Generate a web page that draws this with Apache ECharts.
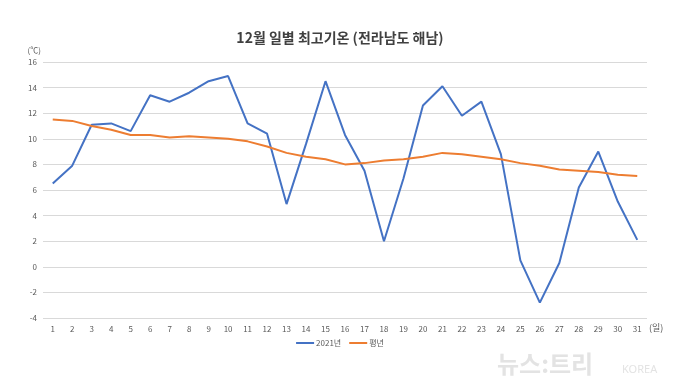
<!DOCTYPE html>
<html><head><meta charset="utf-8">
<script src="https://cdn.jsdelivr.net/npm/echarts@6/dist/echarts.min.js"></script>
<style>html,body{margin:0;padding:0;background:#fff}#c{width:680px;height:382px}</style>
</head><body><div id="c"></div>
<script>
const days = ['1','2','3','4','5','6','7','8','9','10','11','12','13','14','15','16','17','18','19','20','21','22','23','24','25','26','27','28','29','30','31'];
const temp2021 = [6.5,7.9,11.1,11.2,10.6,13.4,12.9,13.6,14.5,14.9,11.2,10.4,4.9,9.6,14.5,10.3,7.5,2.0,6.9,12.6,14.1,11.8,12.9,8.8,0.5,-2.8,0.3,6.2,9.0,5.1,2.1];
const tempNormal = [11.5,11.4,11.0,10.7,10.3,10.3,10.1,10.2,10.1,10.0,9.8,9.4,8.9,8.6,8.4,8.0,8.1,8.3,8.4,8.6,8.9,8.8,8.6,8.4,8.1,7.9,7.6,7.5,7.4,7.2,7.1];
const seriesNames = ['2021년','평년'];
const font = '"Noto Sans CJK KR","Noto Sans",sans-serif';
const chart = echarts.init(document.getElementById('c'));
chart.setOption({
  backgroundColor:'#fff',
  animation:false,
  title:{text:'12월 일별 최고기온 (전라남도 해남)',left:'center',top:26,
    textStyle:{fontFamily:font,fontSize:14,fontWeight:'bold',color:'#404040'}},
  grid:{left:43,right:33,top:62,bottom:64},
  legend:{bottom:30,left:'center',itemWidth:18,itemHeight:2,itemGap:8,icon:'rect',
    textStyle:{fontFamily:font,fontSize:8,color:'#595959',padding:[0,0,0,-3]},data:seriesNames},
  xAxis:{type:'category',data:days,boundaryGap:true,
    name:'(일)',nameLocation:'end',nameGap:2,
    nameTextStyle:{fontFamily:font,fontSize:9,color:'#595959',verticalAlign:'top',padding:[5,0,0,0]},
    axisLine:{show:false,onZero:false},axisTick:{show:false},
    axisLabel:{fontFamily:font,fontSize:8,color:'#595959',margin:7}},
  yAxis:{type:'value',min:-4,max:16,interval:2,
    name:'(℃)',nameLocation:'end',nameGap:8,
    nameTextStyle:{fontFamily:font,fontSize:8,color:'#595959',align:'right',padding:[0,2,0,0]},
    axisLine:{show:false},axisTick:{show:false},
    axisLabel:{fontFamily:font,fontSize:8,color:'#595959',margin:6},
    splitLine:{lineStyle:{color:'#d9d9d9',width:1}}},
  series:[
    {name:seriesNames[0],type:'line',data:temp2021,showSymbol:false,symbol:'none',
     lineStyle:{color:'#4472C4',width:2},itemStyle:{color:'#4472C4'}},
    {name:seriesNames[1],type:'line',data:tempNormal,showSymbol:false,symbol:'none',
     lineStyle:{color:'#ED7D31',width:2},itemStyle:{color:'#ED7D31'}}
  ],
  graphic:[
    {type:'text',left:497,top:352,style:{text:'뉴스:트리',font:'bold 24px "Noto Sans CJK KR",sans-serif',fill:'#e3e3e3'}},
    {type:'text',left:622,top:364,style:{text:'KOREA',font:'11px "Noto Sans",sans-serif',fill:'#e3e3e3'}}
  ]
});
</script></body></html>
